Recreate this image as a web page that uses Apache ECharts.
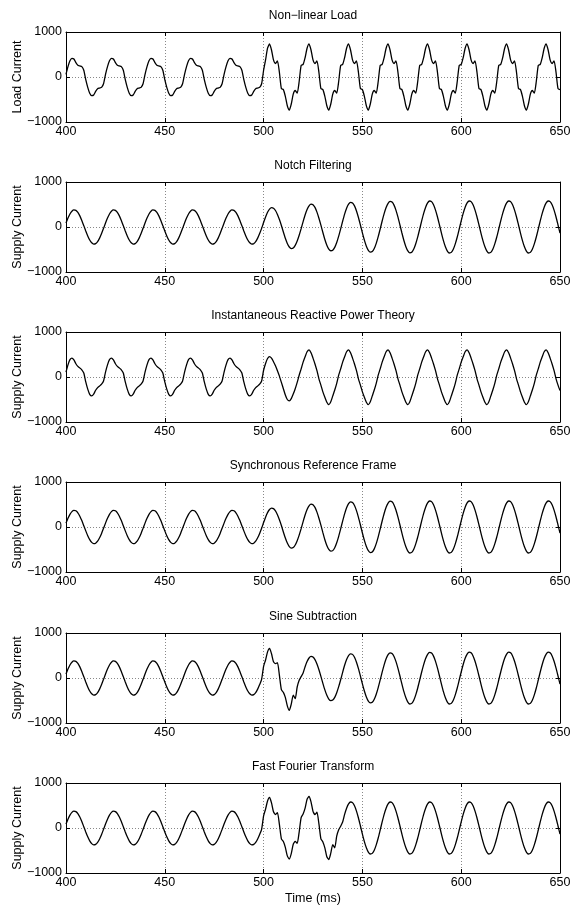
<!DOCTYPE html>
<html><head><meta charset="utf-8">
<script src="https://cdn.jsdelivr.net/npm/echarts@6/dist/echarts.min.js"></script>
<style>html,body{margin:0;padding:0;background:#fff}#c{width:571px;height:907px}</style>
</head><body><div id="c"></div>
<script>
// ---- data (time grid: 400..650 ms, 1 ms step) ----
const timeStart = 400, timeStep = 1;
const xTickMin = 400, xTickMax = 650, xTickStep = 50;
const yTickMin = -1000, yTickMax = 1000, yTickStep = 1000;
const panelTitles = ['Non\u2212linear Load','Notch Filtering','Instantaneous Reactive Power Theory','Synchronous Reference Frame','Sine Subtraction','Fast Fourier Transform'];
const yNames = ['Load Current','Supply Current','Supply Current','Supply Current','Supply Current','Supply Current'];
const xName = 'Time (ms)';

const loadCurrent = [
60,230,360,415,400,320,260,245,230,150,-60,-230,-360,-415,-400,-320,-260,-245,-230,-150,
60,230,360,415,400,320,260,245,230,150,-60,-230,-360,-415,-400,-320,-260,-245,-230,-150,
60,230,360,415,400,320,260,245,230,150,-60,-230,-360,-415,-400,-320,-260,-245,-230,-150,
60,230,360,415,400,320,260,245,230,150,-60,-230,-360,-415,-400,-320,-260,-245,-230,-150,
60,230,360,415,400,320,260,245,230,150,-60,-230,-360,-415,-400,-320,-260,-245,-230,-150,
150,380,640,735,600,380,300,360,100,-260,-280,-430,-640,-735,-600,-380,-300,-360,-100,260,
280,430,640,735,600,380,300,360,100,-260,-280,-430,-640,-735,-600,-380,-300,-360,-100,260,
280,430,640,735,600,380,300,360,100,-260,-280,-430,-640,-735,-600,-380,-300,-360,-100,260,
280,430,640,735,600,380,300,360,100,-260,-280,-430,-640,-735,-600,-380,-300,-360,-100,260,
280,430,640,735,600,380,300,360,100,-260,-280,-430,-640,-735,-600,-380,-300,-360,-100,260,
280,430,640,735,600,380,300,360,100,-260,-280,-430,-640,-735,-600,-380,-300,-360,-100,260,
280,430,640,735,600,380,300,360,100,-260,-280,-430,-640,-735,-600,-380,-300,-360,-100,260,
280,430,640,735,600,380,300,360,100,-260,
-280];

const notchFiltering = [
89,198,289,351,379,369,324,247,146,30,-89,-198,-289,-351,-379,-369,-324,-247,-146,-30,
89,198,289,351,379,369,324,247,146,30,-89,-198,-289,-351,-379,-369,-324,-247,-146,-30,
89,198,289,351,379,369,324,247,146,30,-89,-198,-289,-351,-379,-369,-324,-247,-146,-30,
89,198,289,351,379,369,324,247,146,30,-89,-198,-289,-351,-379,-369,-324,-247,-146,-30,
89,198,289,351,379,369,324,247,146,30,-89,-198,-289,-351,-379,-369,-324,-247,-146,-30,
100,224,327,397,429,418,367,279,165,34,-112,-251,-365,-444,-479,-467,-409,-312,-184,-37,
119,266,388,471,508,496,435,331,195,40,-123,-277,-403,-490,-528,-515,-452,-344,-203,-41,
128,287,418,508,548,535,469,357,211,43,-130,-292,-426,-517,-558,-544,-478,-363,-214,-44,
133,298,433,527,568,554,486,370,218,44,-134,-300,-437,-531,-573,-559,-490,-373,-220,-45,
135,303,441,536,578,564,495,376,222,45,-135,-303,-441,-536,-578,-564,-495,-376,-222,-45,
135,303,441,536,578,564,495,376,222,45,-135,-303,-441,-536,-578,-564,-495,-376,-222,-45,
135,303,441,536,578,564,495,376,222,45,-135,-303,-441,-536,-578,-564,-495,-376,-222,-45,
135,303,441,536,578,564,495,376,222,45,
-135];

const instReactivePower = [
110,270,385,420,380,295,235,200,160,90,-110,-270,-385,-420,-380,-295,-235,-200,-160,-90,
110,270,385,420,380,295,235,200,160,90,-110,-270,-385,-420,-380,-295,-235,-200,-160,-90,
110,270,385,420,380,295,235,200,160,90,-110,-270,-385,-420,-380,-295,-235,-200,-160,-90,
110,270,385,420,380,295,235,200,160,90,-110,-270,-385,-420,-380,-295,-235,-200,-160,-90,
110,270,385,420,380,295,235,200,160,90,-110,-270,-385,-420,-380,-295,-235,-200,-160,-90,
150,300,410,455,420,340,250,140,20,-120,-260,-400,-500,-530,-480,-380,-260,-120,40,180,
330,450,560,605,540,420,290,140,-40,-180,-330,-450,-560,-615,-550,-420,-290,-140,40,180,
330,450,560,605,540,420,290,140,-40,-180,-330,-450,-560,-615,-550,-420,-290,-140,40,180,
330,450,560,605,540,420,290,140,-40,-180,-330,-450,-560,-615,-550,-420,-290,-140,40,180,
330,450,560,605,540,420,290,140,-40,-180,-330,-450,-560,-615,-550,-420,-290,-140,40,180,
330,450,560,605,540,420,290,140,-40,-180,-330,-450,-560,-615,-550,-420,-290,-140,40,180,
330,450,560,605,540,420,290,140,-40,-180,-330,-450,-560,-615,-550,-420,-290,-140,40,180,
330,450,560,605,540,420,290,140,-40,-180,
-300];

const syncRefFrame = [
86,193,281,342,369,360,316,240,142,29,-86,-193,-281,-342,-369,-360,-316,-240,-142,-29,
86,193,281,342,369,360,316,240,142,29,-86,-193,-281,-342,-369,-360,-316,-240,-142,-29,
86,193,281,342,369,360,316,240,142,29,-86,-193,-281,-342,-369,-360,-316,-240,-142,-29,
86,193,281,342,369,360,316,240,142,29,-86,-193,-281,-342,-369,-360,-316,-240,-142,-29,
86,193,281,342,369,360,316,240,142,29,-86,-193,-281,-342,-369,-360,-316,-240,-142,-29,
98,219,319,388,419,408,358,273,161,33,-110,-245,-357,-434,-469,-457,-401,-305,-180,-37,
119,266,388,471,508,496,435,331,195,40,-126,-282,-410,-499,-538,-525,-461,-350,-207,-42,
130,292,426,517,558,544,478,363,214,44,-133,-298,-433,-527,-568,-554,-486,-370,-218,-44,
134,300,437,531,573,559,490,373,220,45,-135,-303,-441,-536,-578,-564,-495,-376,-222,-45,
135,303,441,536,578,564,495,376,222,45,-135,-303,-441,-536,-578,-564,-495,-376,-222,-45,
135,303,441,536,578,564,495,376,222,45,-135,-303,-441,-536,-578,-564,-495,-376,-222,-45,
135,303,441,536,578,564,495,376,222,45,-135,-303,-441,-536,-578,-564,-495,-376,-222,-45,
135,303,441,536,578,564,495,376,222,45,
-135];

const sineSubtraction = [
89,198,289,351,379,369,324,247,146,30,-89,-198,-289,-351,-379,-369,-324,-247,-146,-30,
89,198,289,351,379,369,324,247,146,30,-89,-198,-289,-351,-379,-369,-324,-247,-146,-30,
89,198,289,351,379,369,324,247,146,30,-89,-198,-289,-351,-379,-369,-324,-247,-146,-30,
89,198,289,351,379,369,324,247,146,30,-89,-198,-289,-351,-379,-369,-324,-247,-146,-30,
89,198,289,351,379,369,324,247,146,30,-89,-198,-289,-351,-379,-369,-324,-247,-146,-30,
260,400,580,660,540,360,320,340,60,-260,-320,-430,-620,-720,-580,-380,-460,-200,-50,30,
112,251,365,444,479,467,409,312,184,37,-118,-264,-384,-467,-503,-491,-431,-328,-193,-39,
126,282,410,499,538,525,461,350,207,42,-130,-290,-423,-514,-554,-540,-474,-361,-213,-43,
130,292,426,517,558,544,478,363,214,44,-135,-303,-441,-536,-578,-564,-495,-376,-222,-45,
133,298,433,527,568,554,486,370,218,44,-135,-303,-441,-536,-578,-564,-495,-376,-222,-45,
134,300,437,531,573,559,490,373,220,45,-135,-303,-441,-536,-578,-564,-495,-376,-222,-45,
134,300,437,531,573,559,490,373,220,45,-135,-303,-441,-536,-578,-564,-495,-376,-222,-45,
134,300,437,531,573,559,490,373,220,45,
-135];

const fastFourier = [
87,196,285,347,374,365,320,243,144,29,-87,-196,-285,-347,-374,-365,-320,-243,-144,-29,
87,196,285,347,374,365,320,243,144,29,-87,-196,-285,-347,-374,-365,-320,-243,-144,-29,
87,196,285,347,374,365,320,243,144,29,-87,-196,-285,-347,-374,-365,-320,-243,-144,-29,
87,196,285,347,374,365,320,243,144,29,-87,-196,-285,-347,-374,-365,-320,-243,-144,-29,
87,196,285,347,374,365,320,243,144,29,-87,-196,-285,-347,-374,-365,-320,-243,-144,-29,
270,420,600,680,560,360,300,340,80,-240,-300,-430,-620,-690,-570,-360,-300,-340,-90,230,
310,440,640,700,580,370,300,350,90,-240,-310,-440,-640,-700,-560,-370,-440,-180,-40,40,
135,303,441,536,578,564,495,376,222,45,-135,-303,-441,-536,-578,-564,-495,-376,-222,-45,
135,303,441,536,578,564,495,376,222,45,-135,-303,-441,-536,-578,-564,-495,-376,-222,-45,
135,303,441,536,578,564,495,376,222,45,-135,-303,-441,-536,-578,-564,-495,-376,-222,-45,
135,303,441,536,578,564,495,376,222,45,-135,-303,-441,-536,-578,-564,-495,-376,-222,-45,
135,303,441,536,578,564,495,376,222,45,-135,-303,-441,-536,-578,-564,-495,-376,-222,-45,
135,303,441,536,578,564,495,376,222,45,
-135];

const panelData = [loadCurrent, notchFiltering, instReactivePower, syncRefFrame, sineSubtraction, fastFourier];

// ---- layout / style ----
const FONT = '"Liberation Sans", Arial, Helvetica, sans-serif';
const gridLeft = 66, gridWidth = 494, gridHeight = 90;
const gridTops = [32, 182, 332, 482, 633, 783];
const fmtY = v => (v < 0 ? '\u2212' + Math.abs(v) : String(v));

const grids = [], xAxes = [], yAxes = [], series = [], graphics = [];
const n = panelData.length;
for (let k = 0; k < n; k++) {
  grids.push({left: gridLeft, top: gridTops[k], width: gridWidth, height: gridHeight,
              containLabel: false, outerBoundsMode: 'none'});
  xAxes.push({
    gridIndex: k, type: 'value', min: xTickMin, max: xTickMax, interval: xTickStep, position: 'bottom',
    axisLine: {show: true, onZero: false, lineStyle: {color: '#000', width: 1}},
    axisTick: {show: true, inside: true, length: 4, lineStyle: {color: '#000'}},
    axisLabel: {show: true, color: '#000', fontSize: 12.5, fontFamily: FONT, margin: 3, showMinLabel: true, showMaxLabel: true, hideOverlap: false},
    splitLine: {show: true, lineStyle: {type: [1, 2], color: '#888', width: 1}},
    name: k === n - 1 ? xName : '', nameLocation: 'middle', nameGap: 19, nameMoveOverlap: false,
    nameTextStyle: {color: '#000', fontSize: 12.5, fontFamily: FONT}
  });
  yAxes.push({
    gridIndex: k, type: 'value', min: yTickMin, max: yTickMax, interval: yTickStep, position: 'left',
    axisLine: {show: true, onZero: false, lineStyle: {color: '#000', width: 1}},
    axisTick: {show: true, inside: true, length: 4, lineStyle: {color: '#000'}},
    axisLabel: {show: true, color: '#000', fontSize: 12.5, fontFamily: FONT, margin: 4, formatter: fmtY, hideOverlap: false},
    splitLine: {show: true, lineStyle: {type: [1, 2], color: '#888', width: 1}},
    name: yNames[k], nameLocation: 'middle', nameGap: 42, nameMoveOverlap: false,
    nameTextStyle: {color: '#000', fontSize: 12.5, fontFamily: FONT}
  });
  series.push({
    type: 'line', xAxisIndex: k, yAxisIndex: k, showSymbol: false, symbol: 'none',
    smooth: 0.2, animation: false,
    lineStyle: {color: '#000', width: 1.3},
    data: panelData[k].map((v, i) => [timeStart + i * timeStep, v])
  });
  graphics.push({
    type: 'text', x: gridLeft + gridWidth / 2, y: gridTops[k] - 16,
    style: {text: panelTitles[k], fill: '#000', fontSize: 12, fontFamily: FONT,
            align: 'center', verticalAlign: 'middle', textAlign: 'center', textVerticalAlign: 'middle'}
  });
}
// mirror axes (box frame with ticks on top and right)
for (let k = 0; k < n; k++) {
  xAxes.push({
    gridIndex: k, type: 'value', min: xTickMin, max: xTickMax, interval: xTickStep, position: 'top',
    axisLine: {show: true, onZero: false, lineStyle: {color: '#000', width: 1}},
    axisTick: {show: true, inside: true, length: 4, lineStyle: {color: '#000'}},
    axisLabel: {show: false}, splitLine: {show: false}
  });
  yAxes.push({
    gridIndex: k, type: 'value', min: yTickMin, max: yTickMax, interval: yTickStep, position: 'right',
    axisLine: {show: true, onZero: false, lineStyle: {color: '#000', width: 1}},
    axisTick: {show: true, inside: true, length: 4, lineStyle: {color: '#000'}},
    axisLabel: {show: false}, splitLine: {show: false}
  });
}

const chart = echarts.init(document.getElementById('c'), null, {renderer: 'canvas'});
chart.setOption({
  backgroundColor: '#fff',
  animation: false,
  grid: grids, xAxis: xAxes, yAxis: yAxes, series: series,
  graphic: graphics
});
</script></body></html>
